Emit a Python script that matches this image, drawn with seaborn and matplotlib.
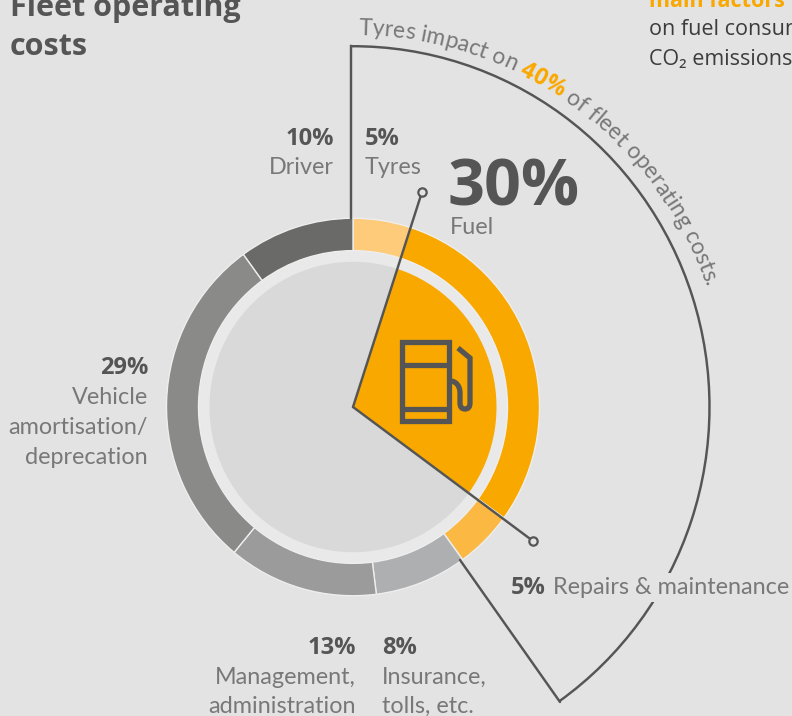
import numpy as np
import matplotlib
matplotlib.use("Agg")
import matplotlib.pyplot as plt
import seaborn as sns
from matplotlib.patches import Arc, Circle, PathPatch
from matplotlib.path import Path
from matplotlib.textpath import TextPath
from matplotlib.font_manager import FontProperties

# ---- data ----
categories = ["Tyres", "Fuel", "Repairs & maintenance", "Insurance, tolls, etc.",
              "Management, administration", "Vehicle amortisation/deprecation", "Driver"]
shares = [5, 30, 5, 8, 13, 29, 10]
ring_colors = ["#FDCB79", "#F9A800", "#FBB943", "#AEAFB0", "#9A9B9A", "#8A8A88", "#6A6A68"]
title_lines = ["Fleet operating", "costs"]
arc_parts = [("Tyres impact on ", False), ("40%", True), (" of fleet operating costs.", False)]

BG = "#E3E3E3"
DARK = "#555555"
GREY = "#787878"
ORANGE = "#F9A800"
LIGHT = "Lato"
LIGHT_W = "normal"
BOLD = "Open Sans"
H = 716
STRETCH = 1.012
CX, CY = 353, 716 - 407

sns.set_theme(style="white", rc={"figure.facecolor": BG, "axes.facecolor": BG})
palette = sns.color_palette(ring_colors)

fig = plt.figure(figsize=(7.92, 7.16), dpi=100)
# chart axes: the reference circle is very slightly taller than wide
cax = fig.add_axes([0, 0, 1, 1])
ax = fig.add_axes([0, 0, 1, 1])
ax.patch.set_alpha(0)


def Y(y):
    return H - y


def light(x, y, s, ha="left", size=16.8, color=GREY, **kw):
    return ax.text(x, Y(y), s, ha=ha, va="baseline", fontsize=size, color=color,
                   family=LIGHT, fontweight=LIGHT_W, **kw)


def bold(x, y, s, ha="left", size=17, color=DARK, **kw):
    return ax.text(x, Y(y), s, ha=ha, va="baseline", fontsize=size, color=color,
                   family=BOLD, fontweight="bold", **kw)


# gap behind the ring
cax.add_patch(Circle((CX, CY), 158, fc="#E9E9E9", ec="none", zorder=0.5))

# outer ring
cax.pie(shares, colors=palette, startangle=90, counterclock=False, center=(CX, CY), radius=186.5,
        wedgeprops=dict(width=32, edgecolor="#EEEEEE", linewidth=1.0, zorder=1))
# inner disc: only the fuel share is highlighted
inner_vals = [shares[0], shares[1], sum(shares[2:])]
cax.pie(inner_vals, colors=["#D9D9D9", ORANGE, "#D9D9D9"], startangle=90, counterclock=False,
        center=(CX, CY), radius=143.5, wedgeprops=dict(edgecolor="none", zorder=2))

# outer bracket for tyres impact
lw = 1.75
cax.add_patch(Arc((CX, CY), 713, 713, theta1=-54.6, theta2=90.3, ec=DARK, lw=lw, zorder=3))

cax.set_xlim(0, 792)
cax.set_ylim(CY - CY / STRETCH, CY + (H - CY) / STRETCH)
cax.set_aspect("auto")
cax.set_axis_off()

ax.set_xlim(0, 792)
ax.set_ylim(0, 716)
ax.set_axis_off()

ax.plot([351, 351], [Y(46), Y(218)], color=DARK, lw=lw, zorder=3, solid_capstyle="projecting")
ax.plot([460, 560], [Y(560), Y(702)], color=DARK, lw=lw, zorder=3)

# leader lines from the centre
for ex, ey in [(422, 192), (533, 541)]:
    ax.plot([CX, ex], [CY, Y(ey)], color=DARK, lw=lw, zorder=4, solid_capstyle="round")
    ax.plot([ex], [Y(ey)], "o", ms=6, mfc=BG, mec=DARK, mew=1.6, zorder=5)

# pump icon
icon_lw = 3.8
ax.add_patch(plt.Rectangle((402, Y(420.5)), 47, 78.5, fc="none", ec=DARK, lw=icon_lw, zorder=4))
ax.plot([402, 449], [Y(364.5), Y(364.5)], color=DARK, lw=icon_lw, zorder=4)
ax.plot([402, 449], [Y(409), Y(409)], color=DARK, lw=icon_lw, zorder=4)
codes = [Path.MOVETO, Path.CURVE4, Path.CURVE4, Path.CURVE4, Path.LINETO, Path.CURVE3, Path.CURVE3,
         Path.CURVE3, Path.CURVE3, Path.LINETO, Path.LINETO]
verts = [(450, 381), (456, 381), (460, 386), (460, 393), (460, 403), (460, 409), (465, 409),
         (470, 409), (470, 403), (470, 358), (458, 348)]
ax.add_patch(PathPatch(Path([(x, Y(y)) for x, y in verts], codes), fc="none", ec=DARK, lw=icon_lw,
                       zorder=4, joinstyle="miter"))

# labels
bold(10, 16, title_lines[0], size=22)
bold(10, 55, title_lines[1], size=22)
bold(334, 145, "10%", ha="right")
light(334, 174, "Driver", ha="right")
bold(365, 145, "5%")
light(365, 174, "Tyres")
bold(448, 205, "30%", size=46.5)
light(450, 234, "Fuel")
bold(148, 374, "29%", ha="right")
light(148, 404, "Vehicle", ha="right")
light(148, 434, "amortisation/", ha="right")
light(148, 464, "deprecation", ha="right")
bold(356, 654, "13%", ha="right")
light(356, 684, "Management,", ha="right")
light(356, 713, "administration", ha="right")
bold(382, 654, "8%")
light(382, 684, "Insurance,")
light(382, 713, "tolls, etc.")
bold(511, 594, "5%", zorder=6)
light(553, 594, "Repairs & maintenance", zorder=6,
      bbox=dict(fc=BG, ec="none", pad=3))
bold(649, 7, "main factors", color=ORANGE, size=15.5)
ax.text(649, Y(35), "on fuel consumption", fontsize=15.5, color="#3C3C3C", family=BOLD, va="baseline")
ax.text(649, Y(65), "CO\u2082 emissions", fontsize=15.5, color="#3C3C3C", family=[BOLD, "DejaVu Sans"], va="baseline")


# text along the arc
def curved(parts, radius, start_deg, size, tracking=0.0):
    angle = np.radians(start_deg)
    for s, is_bold in parts:
        fam = BOLD if is_bold else LIGHT
        wgt = "bold" if is_bold else LIGHT_W
        fp = FontProperties(family=fam, weight=wgt)
        col = ORANGE if is_bold else GREY
        for ch in s:
            adv = TextPath((0, 0), "x" + ch + "x", size=size * 100 / 72, prop=fp).get_extents().width \
                - TextPath((0, 0), "xx", size=size * 100 / 72, prop=fp).get_extents().width + tracking
            mid = angle + adv / 2 / radius
            x = CX + radius * np.sin(mid)
            y = CY + radius * np.cos(mid)
            ax.text(x, y, ch, rotation=-np.degrees(mid), rotation_mode="anchor", ha="center", va="baseline",
                    fontsize=size, color=col, family=fam, fontweight=wgt)
            angle += adv / radius


curved(arc_parts, 372, 0.8, 16.5)

fig.savefig("out.png", dpi=100, facecolor=BG)
